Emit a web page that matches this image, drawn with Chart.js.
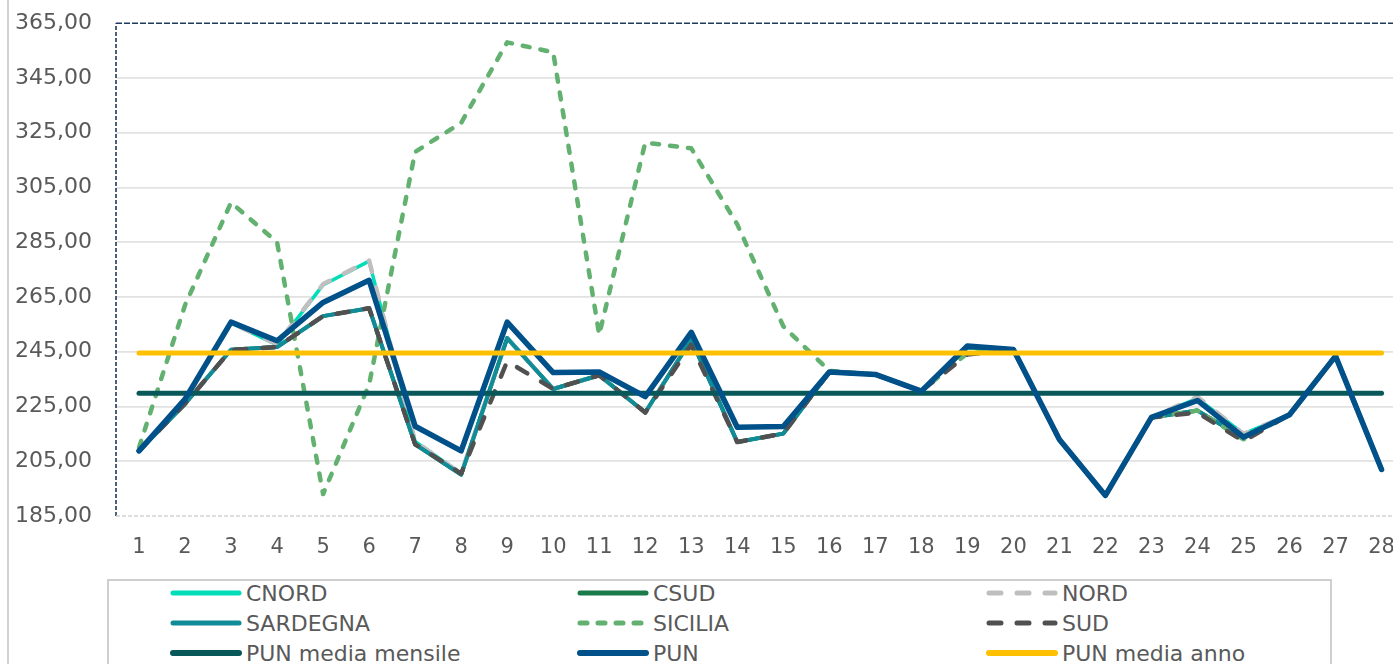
<!DOCTYPE html>
<html><head><meta charset="utf-8">
<script src="https://cdn.jsdelivr.net/npm/chart.js@4"></script>
<style>
html,body{margin:0;padding:0;background:#fff;overflow:hidden;width:1393px;height:664px;}
#wrap{position:absolute;left:0;top:-14px;width:1414px;height:591px;}
#side{position:absolute;left:7px;top:0;width:2px;height:664px;background:#d0d0d0;}
#legend{position:absolute;left:107px;top:579px;width:1225px;height:120px;border:2px solid #cfcfcf;box-sizing:border-box;font-family:'DejaVu Sans';font-size:22px;color:#595959;background:#fff;}
.item{position:absolute;height:30px;display:flex;align-items:center;white-space:nowrap;}
.item svg{margin-right:4px;}
</style></head>
<body>
<div id="side"></div>
<div id="wrap"><canvas id="c" width="1414" height="591"></canvas></div>
<div id="legend"></div>
<script>
const categories = ['1','2','3','4','5','6','7','8','9','10','11','12','13','14','15','16','17','18','19','20','21','22','23','24','25','26','27','28'];
const seriesNames = ['CNORD','CSUD','NORD','SARDEGNA','SICILIA','SUD','PUN media mensile','PUN','PUN media anno'];

const cnord    = [208.8,227.0,255.5,247.5,269.4,278.1,212.2,200.5,250.0,231.4,236.4,222.8,249.4,212.0,215.1,237.6,236.7,230.6,247.0,245.8,212.9,192.5,221.0,228.0,215.0,222.0,243.4,202.0];
const csud     = [208.8,226.0,245.7,246.7,258.0,260.9,211.2,200.1,250.0,231.4,236.4,222.8,249.4,212.0,215.1,237.6,236.7,230.6,246.5,245.8,212.9,192.5,221.0,223.5,213.5,222.0,243.4,202.0];
const nord     = [208.8,227.0,255.5,247.8,269.7,278.3,212.2,200.5,250.0,231.4,236.4,222.8,249.4,212.0,215.1,237.6,236.7,230.6,247.0,245.8,212.9,192.5,221.0,228.5,215.0,222.0,243.4,202.0];
const sardegna = [208.8,226.0,245.7,246.7,258.0,260.9,211.2,200.1,250.0,231.4,236.4,222.8,249.4,212.0,215.1,237.6,236.7,230.6,246.5,245.8,212.9,192.5,221.0,223.5,213.5,222.0,243.4,202.0];
const sicilia  = [210.0,262.0,299.5,285.0,193.0,233.0,318.0,328.6,358.0,354.4,251.2,321.4,319.3,291.5,254.3,238.0,236.7,230.6,244.5,245.8,212.9,192.5,221.0,223.5,213.0,222.0,243.4,202.0];
const sud      = [208.8,226.0,245.7,246.7,258.0,260.9,211.2,200.5,241.5,231.4,236.4,222.8,247.5,212.0,215.1,237.6,236.7,230.6,244.0,245.8,212.9,192.5,221.0,222.8,212.3,222.0,243.4,202.0];
const punMediaMensile = [229.8,229.8,229.8,229.8,229.8,229.8,229.8,229.8,229.8,229.8,229.8,229.8,229.8,229.8,229.8,229.8,229.8,229.8,229.8,229.8,229.8,229.8,229.8,229.8,229.8,229.8,229.8,229.8];
const pun      = [208.8,227.7,255.8,249.0,263.0,271.1,217.8,208.8,255.8,237.4,237.6,228.6,252.1,217.4,217.7,237.6,236.7,230.6,247.1,245.8,212.9,192.5,221.0,227.2,213.8,222.0,243.4,202.0];
const punMediaAnno = [244.5,244.5,244.5,244.5,244.5,244.5,244.5,244.5,244.5,244.5,244.5,244.5,244.5,244.5,244.5,244.5,244.5,244.5,244.5,244.5,244.5,244.5,244.5,244.5,244.5,244.5,244.5,244.5];

const yMin = 185, yMax = 365, yStep = 20;

const seriesData = [cnord, csud, nord, sardegna, sicilia, sud, punMediaMensile, pun, punMediaAnno];
const seriesColors = ['#00DDB8','#1A7A4A','#BFBFBF','#0F8C98','#63B170','#505050','#08585A','#00508A','#FFC000'];
const seriesWidths = [3.5,4,4.5,4,4.5,4.5,5,5.5,5];
const seriesDashes = [[],[],[12,16],[],[7,11],[12,16],[],[],[]];

const FONT = "'DejaVu Sans'";

const datasets = seriesNames.map((name, i) => ({
  label: name,
  data: seriesData[i],
  borderColor: seriesColors[i],
  backgroundColor: seriesColors[i],
  borderWidth: seriesWidths[i],
  borderDash: seriesDashes[i],
  borderCapStyle: 'round',
  borderJoinStyle: 'round',
  pointRadius: 0,
  pointHoverRadius: 0,
  tension: 0,
  fill: false,
  order: seriesNames.length - i
}));

const framePlugin = {
  id: 'frame',
  beforeDatasetsDraw(chart) {
    const { ctx, chartArea: a } = chart;
    ctx.save();
    ctx.lineWidth = 1.6;
    ctx.strokeStyle = '#1D3B5C';
    ctx.setLineDash([4, 2]);
    ctx.beginPath(); ctx.moveTo(a.left, a.bottom); ctx.lineTo(a.left, a.top); ctx.stroke();
    ctx.setLineDash([6, 2]);
    ctx.beginPath(); ctx.moveTo(a.left, a.top); ctx.lineTo(a.right, a.top); ctx.stroke();
    ctx.strokeStyle = '#d3d3d3';
    ctx.setLineDash([4, 2]);
    ctx.beginPath(); ctx.moveTo(a.left, a.bottom); ctx.lineTo(a.right, a.bottom); ctx.stroke();
    ctx.restore();
  }
};

new Chart(document.getElementById('c'), {
  type: 'line',
  data: { labels: categories, datasets },
  options: {
    responsive: false,
    animation: false,
    events: [],
    layout: { padding: { top: 7, right: 5, left: 0, bottom: 0 } },
    plugins: { legend: { display: false }, tooltip: { enabled: false } },
    scales: {
      x: {
        type: 'category',
        offset: true,
        grid: { display: false, drawTicks: false },
        border: { display: false },
        ticks: { font: { family: FONT, size: 21 }, color: '#595959', padding: 19, maxRotation: 0, autoSkip: false },
        afterFit: s => { s.height = 61; }
      },
      y: {
        min: yMin, max: yMax,
        grid: {
          drawTicks: false,
          lineWidth: 1.8,
          color: c => (c.tick && (c.tick.value === yMin || c.tick.value === yMax)) ? 'rgba(0,0,0,0)' : '#e2e2e2'
        },
        border: { display: false },
        ticks: {
          stepSize: yStep,
          font: { family: FONT, size: 22 },
          color: '#595959',
          padding: 24,
          callback: v => v.toFixed(2).replace('.', ',')
        },
        afterFit: s => { s.width = 116; }
      }
    }
  },
  plugins: [framePlugin]
});

// HTML legend (3 columns)
const legend = document.getElementById('legend');
const colX = [170, 577, 986];
const rowY = [593, 623, 653];
seriesNames.forEach((name, i) => {
  const col = i % 3, row = Math.floor(i / 3);
  const div = document.createElement('div');
  div.className = 'item';
  div.style.left = (colX[col] - 109) + 'px';
  div.style.top = (rowY[row] - 581 - 15) + 'px';
  const w = seriesWidths[i] < 5 ? 5 : 6;
  const dash = seriesDashes[i].length ? `stroke-dasharray="${seriesDashes[i].join(' ')}"` : '';
  div.innerHTML = `<svg width="72" height="12"><line x1="3" y1="6" x2="69" y2="6" stroke="${seriesColors[i]}" stroke-width="${w}" stroke-linecap="round" ${dash}/></svg><span>${name}</span>`;
  legend.appendChild(div);
});
</script>
</body></html>
